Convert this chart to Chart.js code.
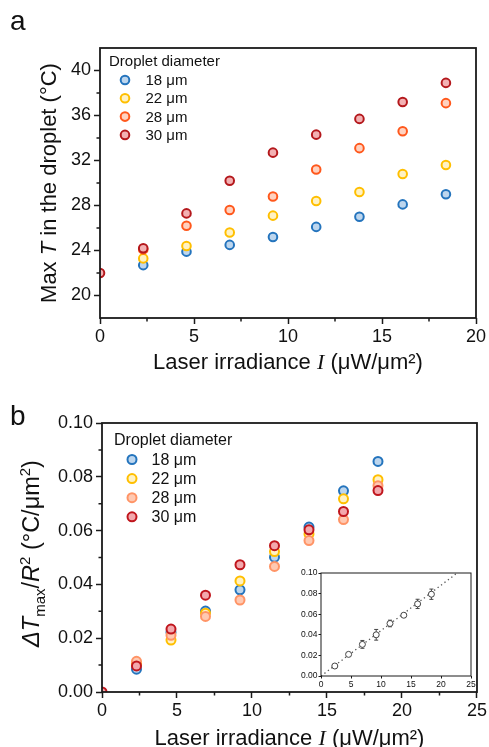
<!DOCTYPE html>
<html>
<head>
<meta charset="utf-8">
<script src="https://cdn.jsdelivr.net/npm/chart.js@4.4.1/dist/chart.umd.min.js"></script>
<style>
  body { margin: 0; background: #fff; }
  #wrap { position: relative; width: 489px; height: 747px; }
  canvas { position: absolute; }
</style>
</head>
<body>
<div id="wrap">
  <canvas id="chartA" width="489" height="375" style="left:0;top:0;"></canvas>
  <canvas id="chartB" width="489" height="372" style="left:0;top:375px;"></canvas>
  <canvas id="inset" width="182" height="126" style="left:296px;top:566px;"></canvas>
</div>
<script>
const FONT = '"Liberation Sans", Arial, sans-serif';
const SERIF = '"Liberation Serif", "Times New Roman", serif';

// laser irradiance I (µW/µm²)
let irradiance = [2.3, 4.6, 6.9, 9.2, 11.5, 13.8, 16.1, 18.4];
let irradiance30 = [0, 2.3, 4.6, 6.9, 9.2, 11.5, 13.8, 16.1, 18.4];
let diameterLabels = ['18 μm', '22 μm', '28 μm', '30 μm'];

// panel a: max T in the droplet (°C)
let maxT18 = [22.7, 23.9, 24.5, 25.2, 26.1, 27.0, 28.1, 29.0];
let maxT22 = [23.3, 24.4, 25.6, 27.1, 28.4, 29.2, 30.8, 31.6];
let maxT28 = [24.1, 26.2, 27.6, 28.8, 31.2, 33.1, 34.6, 37.1];
let maxT30 = [22.0, 24.2, 27.3, 30.2, 32.7, 34.3, 35.7, 37.2, 38.9];

// panel b: dTmax / R^2 (°C/µm²)
let ratio18 = [0.0085, 0.0222, 0.0301, 0.0380, 0.0501, 0.0613, 0.0748, 0.0857];
let ratio22 = [0.0106, 0.0193, 0.0293, 0.0413, 0.0522, 0.0587, 0.0718, 0.0789];
let ratio28 = [0.0114, 0.0211, 0.0281, 0.0342, 0.0467, 0.0563, 0.0641, 0.0767];
let ratio30 = [0.0000, 0.0097, 0.0234, 0.0360, 0.0473, 0.0544, 0.0603, 0.0671, 0.0749];

// inset: mean with error bars and linear fit
let insetMean = [0.0097, 0.0210, 0.0307, 0.0400, 0.0510, 0.0590, 0.0700, 0.0794];
let insetErr = [0.0010, 0.0010, 0.0038, 0.0052, 0.0032, 0.0015, 0.0045, 0.0050];
let fitX = [0, 22.7];
let fitY = [0, 0.1];

// ticks
let xTicksA = [0, 5, 10, 15, 20];
let xMinorA = [2.5, 7.5, 12.5, 17.5];
let yTicksA = [20, 24, 28, 32, 36, 40];
let yMinorA = [22, 26, 30, 34, 38];
let xTicksB = [0, 5, 10, 15, 20, 25];
let xMinorB = [2.5, 7.5, 12.5, 17.5, 22.5];
let yTicksB = [0, 0.02, 0.04, 0.06, 0.08, 0.10];
let yMinorB = [0.01, 0.03, 0.05, 0.07, 0.09];

let borderA = ['#2474bd', '#ffbf00', '#ff581c', '#b4181c'];
let fillA = ['#bdd6ee', '#fff2c4', '#ffd2c0', '#f3b1b3'];
let borderB = ['#2474bd', '#ffbf00', '#ff9466', '#c0161d'];
let fillB = ['#bdd6ee', '#fff2c4', '#ffc9b2', '#f3a8ad'];

function pts(xs, ys) {
    return xs.map((x, i) => ({ x: x, y: ys[i] }));
}

function fontOf(s, size) {
    let sz = (s.sub || s.sup) ? Math.round(size * 0.64) : size;
    return (s.i ? 'italic ' : '') + sz + 'px ' + (s.serif ? SERIF : FONT);
}

function drawRich(ctx, segs, size) {
    let total = 0;
    for (let s of segs) {
        ctx.font = fontOf(s, size);
        total += ctx.measureText(s.t).width;
    }
    let x = -total / 2;
    for (let s of segs) {
        ctx.font = fontOf(s, size);
        let dy = s.sub ? size * 0.26 : (s.sup ? -size * 0.4 : 0);
        ctx.fillText(s.t, x, dy);
        x += ctx.measureText(s.t).width;
    }
}

/* frame, minor ticks, titles, panel letter */
const decoPlugin = {
    id: 'deco',
    afterDraw(chart, args, o) {
        const ctx = chart.ctx;
        const a = chart.chartArea;
        ctx.save();
        ctx.strokeStyle = '#1a1a1a';
        ctx.lineWidth = o.frame;
        ctx.strokeRect(a.left, a.top, a.right - a.left, a.bottom - a.top);
        ctx.lineWidth = o.tickWidth;
        ctx.beginPath();
        for (let v of o.minorX) {
            let px = chart.scales.x.getPixelForValue(v);
            ctx.moveTo(px, a.bottom);
            ctx.lineTo(px, a.bottom + o.minorLen);
        }
        for (let v of o.minorY) {
            let py = chart.scales.y.getPixelForValue(v);
            ctx.moveTo(a.left, py);
            ctx.lineTo(a.left - o.minorLen, py);
        }
        ctx.stroke();

        ctx.fillStyle = '#111';
        ctx.textAlign = 'left';
        ctx.textBaseline = 'alphabetic';
        if (o.xTitle) {
            ctx.save();
            ctx.translate((a.left + a.right) / 2, o.xTitleY);
            drawRich(ctx, o.xTitle, o.titleSize);
            ctx.restore();
        }
        if (o.yTitle) {
            ctx.save();
            ctx.translate(o.yTitleX, (a.top + a.bottom) / 2 + (o.yTitleShift || 0));
            ctx.rotate(-Math.PI / 2);
            drawRich(ctx, o.yTitle, o.yTitleSize || o.titleSize);
            ctx.restore();
        }
        if (o.letter) {
            ctx.font = o.letterSize + 'px ' + FONT;
            ctx.fillText(o.letter, o.letterX, o.letterY);
        }
        ctx.restore();
    }
};

/* legend drawn inside the plot area */
const innerLegend = {
    id: 'innerLegend',
    afterDraw(chart, args, o) {
        if (!o.title) return;
        const ctx = chart.ctx;
        const a = chart.chartArea;
        ctx.save();
        ctx.textAlign = 'left';
        ctx.textBaseline = 'middle';
        ctx.font = o.size + 'px ' + FONT;
        ctx.fillStyle = '#111';
        ctx.fillText(o.title, a.left + o.titleX, a.top + o.titleY);
        chart.data.datasets.forEach((ds, i) => {
            let y = a.top + o.rowY + i * o.rowGap;
            ctx.beginPath();
            ctx.arc(a.left + o.markerX, y, ds.pointRadius, 0, Math.PI * 2);
            ctx.fillStyle = ds.backgroundColor;
            ctx.fill();
            ctx.lineWidth = ds.borderWidth;
            ctx.strokeStyle = ds.borderColor;
            ctx.stroke();
            ctx.fillStyle = '#111';
            ctx.fillText(ds.label, a.left + o.textX, y + 1);
        });
        ctx.restore();
    }
};

/* inset: white plot background and error bars */
const insetPlugin = {
    id: 'insetBars',
    beforeDraw(chart, args, o) {
        if (!o.on) return;
        const a = chart.chartArea;
        chart.ctx.save();
        chart.ctx.fillStyle = '#fff';
        chart.ctx.fillRect(a.left, a.top, a.right - a.left, a.bottom - a.top);
        chart.ctx.restore();
    },
    beforeDatasetsDraw(chart, args, o) {
        if (!o.on) return;
        const ctx = chart.ctx;
        const sx = chart.scales.x, sy = chart.scales.y;
        ctx.save();
        ctx.strokeStyle = '#444';
        ctx.lineWidth = 1;
        ctx.beginPath();
        irradiance.forEach((x, i) => {
            let px = sx.getPixelForValue(x);
            let top = sy.getPixelForValue(insetMean[i] + insetErr[i]);
            let bot = sy.getPixelForValue(insetMean[i] - insetErr[i]);
            ctx.moveTo(px, top); ctx.lineTo(px, bot);
            ctx.moveTo(px - 2, top); ctx.lineTo(px + 2, top);
            ctx.moveTo(px - 2, bot); ctx.lineTo(px + 2, bot);
        });
        ctx.stroke();
        ctx.restore();
    }
};

function axis(min, max, ticks, fmt, size, isX, o) {
    return {
        type: 'linear',
        min: min,
        max: max,
        afterBuildTicks: s => { s.ticks = ticks.map(v => ({ value: v })); },
        afterFit: s => { if (isX) s.height = size; else s.width = size; },
        border: { display: false },
        grid: { drawOnChartArea: false, drawTicks: true, tickLength: o.tickLen, tickWidth: o.tickWidth, tickColor: '#1a1a1a' },
        ticks: { color: '#111', font: { family: FONT, size: o.font }, padding: o.pad, callback: fmt, maxRotation: 0, autoSkip: false }
    };
}

function series(xs, ys, i, border, fill, r) {
    return {
        label: diameterLabels[i],
        data: pts(xs, ys),
        pointRadius: r,
        pointHoverRadius: r,
        borderWidth: 2,
        pointBorderWidth: 2,
        borderColor: border[i],
        backgroundColor: fill[i],
        order: 3 - i
    };
}

const mainTick = { tickLen: 6, tickWidth: 1.5, font: 18, pad: 3 };
const xTickOpt = { tickLen: 6, tickWidth: 1.5, font: 18, pad: 2 };

window.onload = function() {
    Chart.defaults.animation = false;

    const chartA = new Chart(document.getElementById('chartA'), {
        type: 'scatter',
        data: {
            datasets: [
                series(irradiance, maxT18, 0, borderA, fillA, 4.3),
                series(irradiance, maxT22, 1, borderA, fillA, 4.3),
                series(irradiance, maxT28, 2, borderA, fillA, 4.3),
                series(irradiance30, maxT30, 3, borderA, fillA, 4.3)
            ]
        },
        options: {
            responsive: false,
            devicePixelRatio: 1,
            layout: { padding: { left: 36, top: 48, right: 13, bottom: 0 } },
            scales: {
                x: axis(0, 20, xTicksA, v => String(v), 57, true, xTickOpt),
                y: axis(18, 42, yTicksA, v => String(v), 64, false, mainTick)
            },
            plugins: {
                legend: { display: false },
                tooltip: { enabled: false },
                deco: {
                    frame: 1.8, tickWidth: 1.5, minorLen: 3.5,
                    minorX: xMinorA, minorY: yMinorA,
                    titleSize: 22,
                    xTitle: [{ t: 'Laser irradiance ' }, { t: 'I', i: true, serif: true }, { t: ' (μW/μm²)' }],
                    xTitleY: 369,
                    yTitle: [{ t: 'Max ' }, { t: 'T', i: true }, { t: ' in the droplet (°C)' }],
                    yTitleX: 56,
                    letter: 'a', letterSize: 28, letterX: 10, letterY: 30
                },
                innerLegend: {
                    title: 'Droplet diameter', size: 15,
                    titleX: 9, titleY: 14, markerX: 25, textX: 45.5, rowY: 32, rowGap: 18.3
                }
            }
        },
        plugins: [decoPlugin, innerLegend]
    });

    const chartB = new Chart(document.getElementById('chartB'), {
        type: 'scatter',
        data: {
            datasets: [
                series(irradiance, ratio18, 0, borderB, fillB, 4.5),
                series(irradiance, ratio22, 1, borderB, fillB, 4.5),
                series(irradiance, ratio28, 2, borderB, fillB, 4.5),
                series(irradiance30, ratio30, 3, borderB, fillB, 4.5)
            ]
        },
        options: {
            responsive: false,
            devicePixelRatio: 1,
            layout: { padding: { left: 36, top: 48, right: 12, bottom: 0 } },
            scales: {
                x: axis(0, 25, xTicksB, v => String(v), 55, true, xTickOpt),
                y: axis(0, 0.1, yTicksB, v => v.toFixed(2), 66, false, mainTick)
            },
            plugins: {
                legend: { display: false },
                tooltip: { enabled: false },
                deco: {
                    frame: 1.8, tickWidth: 1.5, minorLen: 3.5,
                    minorX: xMinorB, minorY: yMinorB,
                    titleSize: 22,
                    yTitleSize: 23.5,
                    xTitle: [{ t: 'Laser irradiance ' }, { t: 'I', i: true, serif: true }, { t: ' (μW/μm²)' }],
                    xTitleY: 370,
                    yTitle: [{ t: 'ΔT', i: true }, { t: 'max', sub: true }, { t: '/' }, { t: 'R', i: true }, { t: '2', sup: true }, { t: ' (°C/μm' }, { t: '2', sup: true }, { t: ')' }],
                    yTitleX: 39,
                    yTitleShift: -4,
                    letter: 'b', letterSize: 28, letterX: 10, letterY: 50
                },
                innerLegend: {
                    title: 'Droplet diameter', size: 16,
                    titleX: 12, titleY: 18, markerX: 30, textX: 49.5, rowY: 36.5, rowGap: 19.1
                }
            }
        },
        plugins: [decoPlugin, innerLegend]
    });

    const insetTick = { tickLen: 2.5, tickWidth: 1, font: 8.5, pad: 1 };
    const inset = new Chart(document.getElementById('inset'), {
        type: 'scatter',
        data: {
            datasets: [
                {
                    data: pts(fitX, fitY),
                    showLine: true,
                    borderColor: '#555',
                    borderWidth: 1.3,
                    borderDash: [1.3, 3],
                    pointRadius: 0,
                    order: 1
                },
                {
                    data: pts(irradiance, insetMean),
                    pointRadius: 3,
                    pointBorderWidth: 1,
                    borderColor: '#444',
                    backgroundColor: '#fff',
                    order: 0
                }
            ]
        },
        options: {
            responsive: false,
            devicePixelRatio: 1,
            layout: { padding: { left: 0, top: 7, right: 7, bottom: 0 } },
            scales: {
                x: axis(0, 25, xTicksB, v => String(v), 16, true, insetTick),
                y: axis(0, 0.1, yTicksB, v => v.toFixed(2), 25, false, insetTick)
            },
            plugins: {
                legend: { display: false },
                tooltip: { enabled: false },
                deco: { frame: 1, tickWidth: 1, minorLen: 0, minorX: [], minorY: [], titleSize: 8 },
                innerLegend: {},
                insetBars: { on: true }
            }
        },
        plugins: [decoPlugin, innerLegend, insetPlugin]
    });
};
</script>
</body>
</html>
